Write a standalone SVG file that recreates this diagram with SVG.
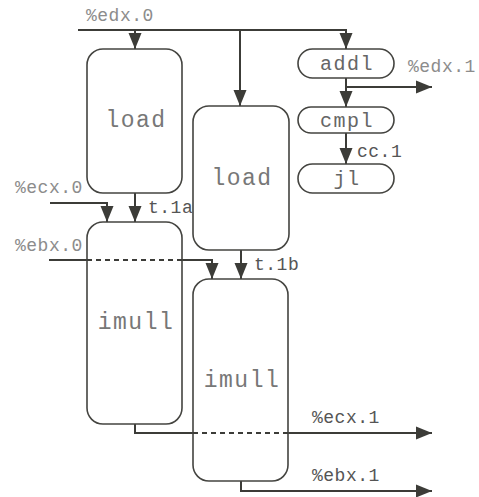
<svg xmlns="http://www.w3.org/2000/svg" width="479" height="497" viewBox="0 0 479 497">
<style>
.box{fill:#fff;stroke:#444440;stroke-width:1.6}
.btxt{font-family:"Liberation Mono","Courier New",monospace;font-size:23px;letter-spacing:1.5px;fill:#777;text-anchor:middle}
.stxt{font-family:"Liberation Mono","Courier New",monospace;font-size:20px;letter-spacing:1.5px;fill:#666;text-anchor:middle}
.lbl{font-family:"Liberation Mono","Courier New",monospace;font-size:18px;letter-spacing:0.5px;fill:#8c8c8c}
.tl{font-family:"Liberation Mono","Courier New",monospace;font-size:18px;letter-spacing:0.5px;fill:#555}
.ln{fill:none;stroke:#3c3c38;stroke-width:2}
.dash{fill:none;stroke:#3c3c38;stroke-width:2;stroke-dasharray:5 4}
</style>
<defs>
<marker id="ah" markerUnits="userSpaceOnUse" markerWidth="16" markerHeight="14" refX="16" refY="7" orient="auto">
<path d="M0,0.5 L16,7 L0,13.5 z" fill="#3c3c38"/>
</marker>
</defs>
<g id="connectors">
<path class="ln" d="M78,30 H346 V49" marker-end="url(#ah)"/>
<path class="ln" d="M135,30 V49" marker-end="url(#ah)"/>
<path class="ln" d="M240,30 V106" marker-end="url(#ah)"/>
<path class="ln" d="M346,78 V107" marker-end="url(#ah)"/>
<path class="ln" d="M346,87 H432" marker-end="url(#ah)"/>
<path class="ln" d="M346,133 V164" marker-end="url(#ah)"/>
<path class="ln" d="M50,203 H107 V222" marker-end="url(#ah)"/>
<path class="ln" d="M135,193 V222" marker-end="url(#ah)"/>
<path class="ln" d="M49,260 H87"/>
<path class="ln" d="M182,260 H212 V279" marker-end="url(#ah)"/>
<path class="ln" d="M241,250 V279" marker-end="url(#ah)"/>
<path class="ln" d="M135,424 V433 H193"/>
<path class="ln" d="M288,433 H432" marker-end="url(#ah)"/>
<path class="ln" d="M241,481 V491 H432" marker-end="url(#ah)"/>
</g>
<g id="load1"><rect class="box" x="87" y="49" width="95" height="144" rx="16"/><text class="btxt" x="136" y="127">load</text></g>
<g id="load2"><rect class="box" x="193" y="106" width="96" height="144" rx="16"/><text class="btxt" x="242" y="185">load</text></g>
<g id="imull1"><rect class="box" x="87" y="222" width="95" height="202" rx="16"/><text class="btxt" x="136" y="329">imull</text></g>
<g id="imull2"><rect class="box" x="193" y="279" width="95" height="202" rx="16"/><text class="btxt" x="242" y="387">imull</text></g>
<g id="addl"><rect class="box" x="298" y="49" width="96" height="29" rx="14.5"/><text class="stxt" x="347" y="70">addl</text></g>
<g id="cmpl"><rect class="box" x="298" y="107" width="96" height="26" rx="13"/><text class="stxt" x="347" y="127">cmpl</text></g>
<g id="jl"><rect class="box" x="298" y="164" width="96" height="29" rx="14.5"/><text class="stxt" x="347" y="185">jl</text></g>
<g id="dashes">
<path class="dash" d="M87,260 H182"/>
<path class="dash" d="M193,433 H288"/>
</g>
<g id="labels">
<text class="lbl" x="86" y="21">%edx.0</text>
<text class="lbl" x="408" y="72">%edx.1</text>
<text class="tl" x="357" y="157">cc.1</text>
<text class="lbl" x="15" y="193">%ecx.0</text>
<text class="lbl" x="15" y="251">%ebx.0</text>
<text class="tl" x="148" y="213">t.1a</text>
<text class="tl" x="254" y="270">t.1b</text>
<text class="tl" x="312" y="423">%ecx.1</text>
<text class="tl" x="312" y="481">%ebx.1</text>
</g>
</svg>
